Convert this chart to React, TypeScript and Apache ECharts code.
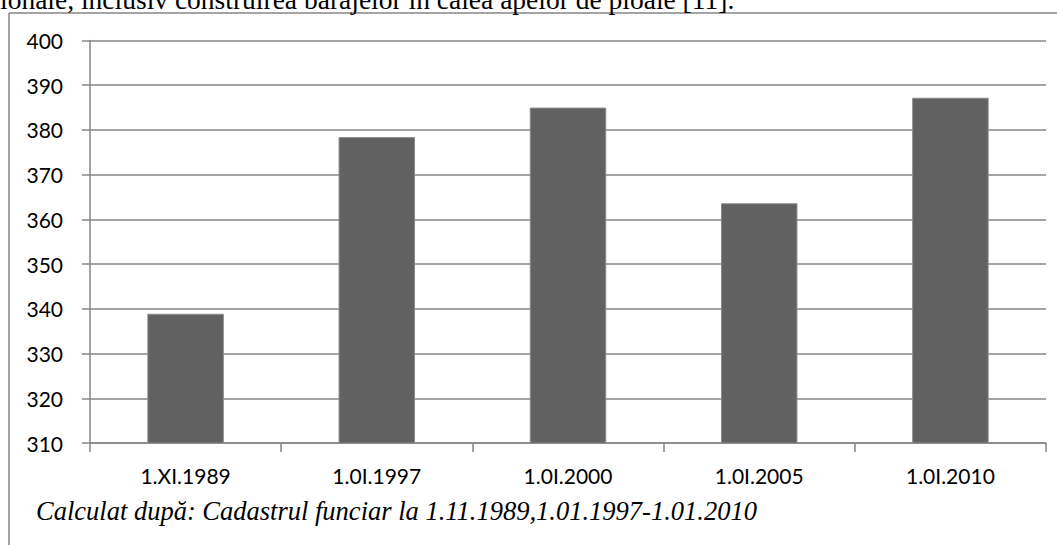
import React, { useEffect, useRef } from "react";
import * as echarts from "echarts";

const categories = ["1.XI.1989", "1.0I.1997", "1.0I.2000", "1.0I.2005", "1.0I.2010"];
const values = [338.9, 378.4, 385.0, 363.6, 387.2];
const yMin = 310;
const yMax = 400;
const yStep = 10;
const headerText = "ionale, inclusiv construirea barajelor în calea apelor de ploaie [11].";
const captionText = "Calculat după: Cadastrul funciar la 1.11.1989,1.01.1997-1.01.2010";

export default function App() {
  const ref = useRef<HTMLDivElement>(null);
  useEffect(() => {
    if (!ref.current) return;
    const chart = echarts.init(ref.current, null, { renderer: "svg" });
    const axisGray = "#868686";
    chart.setOption({
      animation: false,
      backgroundColor: "#ffffff",
      grid: { left: 90, right: 11, top: 40.5, bottom: 102 },
      xAxis: {
        type: "category",
        data: categories,
        boundaryGap: true,
        axisLine: { show: true, lineStyle: { color: axisGray, width: 1.5 } },
        axisTick: { show: true, length: 9, alignWithLabel: false, lineStyle: { color: axisGray, width: 1.5 } },
        axisLabel: { color: "#000", fontFamily: "Lato", fontSize: 21, margin: 22 },
        splitLine: { show: false },
      },
      yAxis: {
        type: "value",
        min: yMin,
        max: yMax,
        interval: yStep,
        axisLine: { show: true, lineStyle: { color: axisGray, width: 1.5 } },
        axisTick: { show: true, length: 8, lineStyle: { color: axisGray, width: 1.5 } },
        axisLabel: { color: "#000", fontFamily: "Lato", fontSize: 21, margin: 27 },
        splitLine: { show: true, lineStyle: { color: axisGray, width: 1.5 } },
      },
      series: [
        {
          type: "bar",
          data: values,
          barWidth: "40%",
          itemStyle: { color: "#616161", borderColor: "#8a8a8a", borderWidth: 1 },
        },
      ],
      graphic: [
        {
          type: "line",
          shape: { x1: 9, y1: 13, x2: 1057, y2: 13 },
          style: { stroke: axisGray, lineWidth: 1.5 },
        },
        {
          type: "line",
          shape: { x1: 9, y1: 13, x2: 9, y2: 545 },
          style: { stroke: axisGray, lineWidth: 1.5 },
        },
        {
          type: "text",
          x: 0,
          y: 13,
          style: {
            text: headerText,
            fill: "#000",
            fontFamily: "Liberation Serif",
            fontSize: 27.5,
            textVerticalAlign: "bottom",
          },
        },
        {
          type: "text",
          x: 36,
          y: 524,
          style: {
            text: captionText,
            fill: "#000",
            fontFamily: "Liberation Serif",
            fontStyle: "italic",
            fontSize: 26.5,
            textVerticalAlign: "bottom",
          },
        },
      ],
    });
    return () => chart.dispose();
  }, []);
  return (
    <div
      ref={ref}
      style={{ position: "fixed", left: 0, top: 0, width: 1057, height: 545, background: "#fff" }}
    />
  );
}
